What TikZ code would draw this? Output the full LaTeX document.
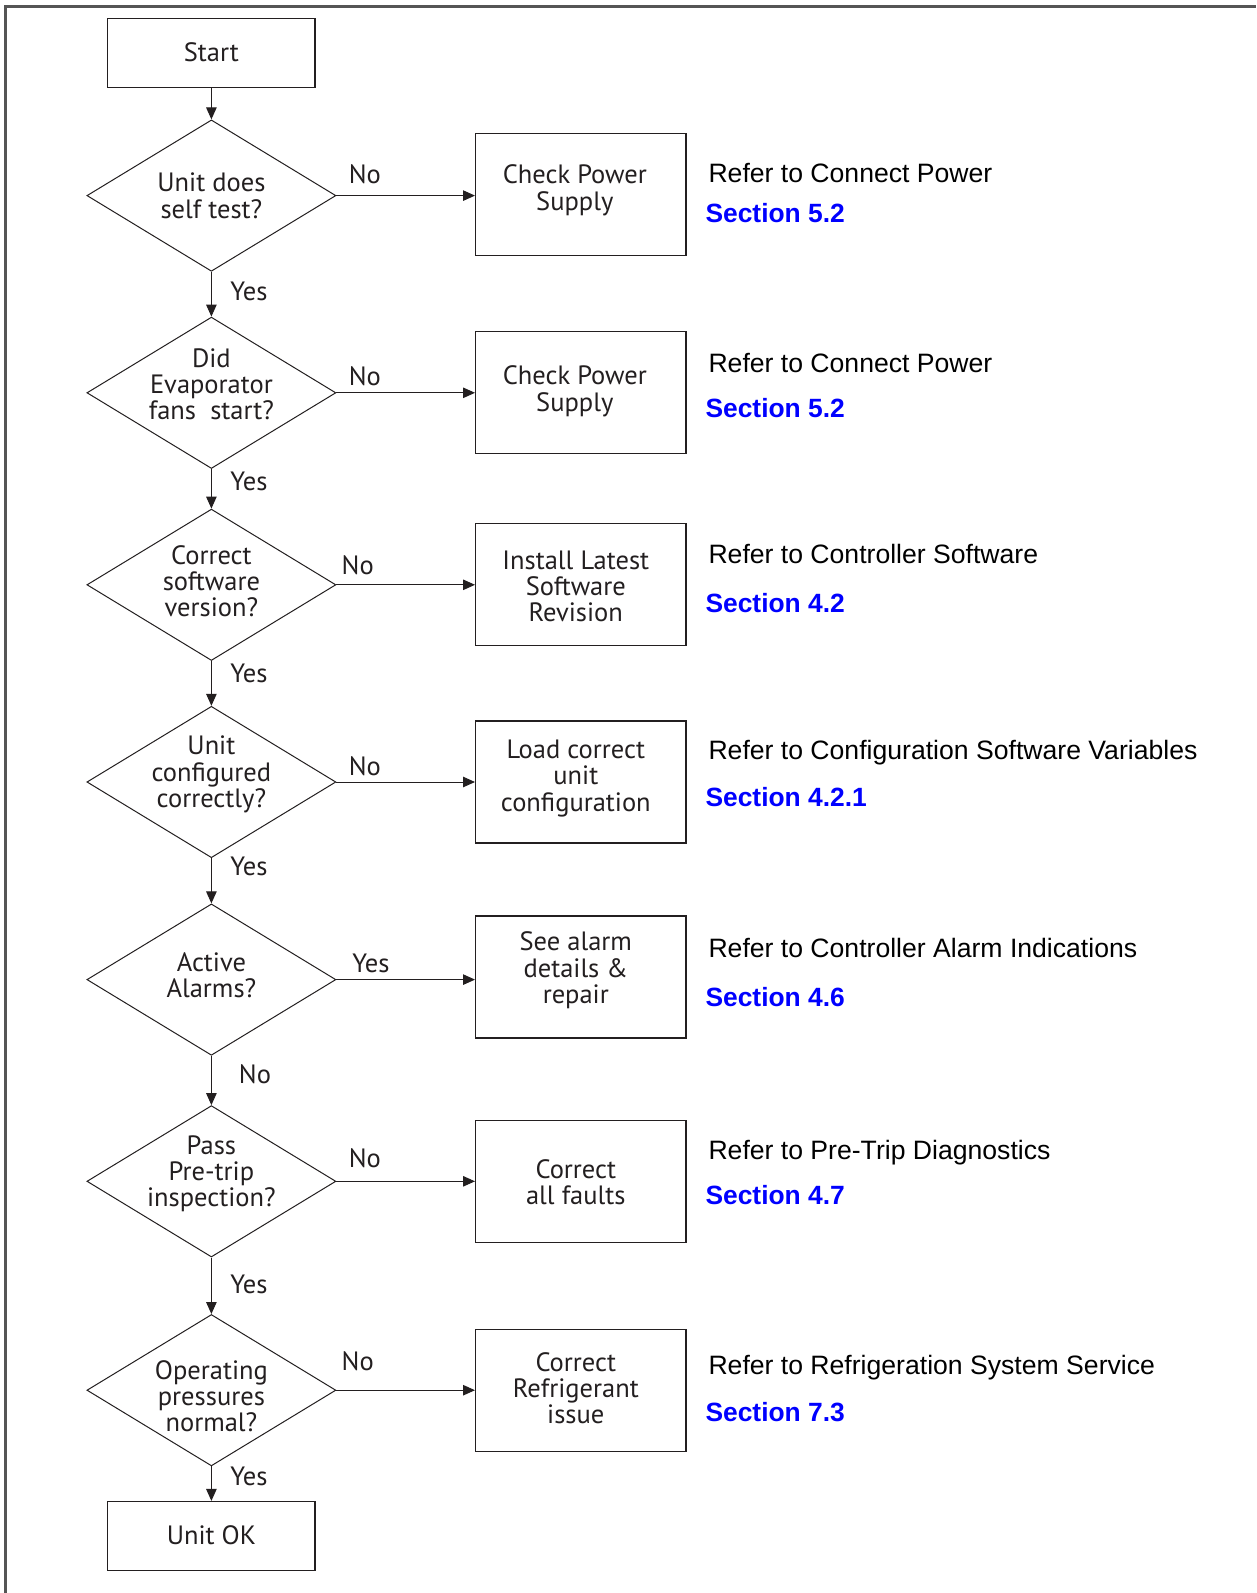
\documentclass[tikz,border=0pt]{standalone}
\usepackage{fontspec}
\setmainfont{PT Sans}
\newfontfamily\arialfont{Liberation Sans}
\usetikzlibrary{shapes.geometric,arrows.meta}
\definecolor{secblue}{RGB}{0,0,255}
\definecolor{ink}{RGB}{35,31,32}
\definecolor{framegray}{RGB}{85,85,85}
\tikzset{
  dfont/.style={font={\fontsize{26.5}{26.4}\selectfont}},
  box/.style={draw=ink, line width=1.2pt, minimum width=210.4pt, minimum height=122pt, inner sep=0pt},
  termbox/.style={draw=ink, line width=1.2pt, minimum width=207.3pt, minimum height=69pt, inner sep=0pt},
  dec/.style={diamond, draw=ink, line width=1pt, minimum width=249pt, minimum height=151.4pt, inner sep=0pt},
  txt/.style={dfont, align=center, inner sep=0pt, text=ink},
  lbl/.style={dfont, inner sep=0pt, text=ink},
  arr/.style={draw=ink, line width=1pt, -{Triangle[length=12pt,width=10.5pt]}},
  refer/.style={anchor=base west, inner sep=0pt, font={\arialfont\fontsize{26.6}{30}\selectfont}},
  sect/.style={anchor=base west, inner sep=0pt, text=secblue, font={\arialfont\bfseries\fontsize{26.4}{30}\selectfont}},
}
\begin{document}
\begin{tikzpicture}[x=1pt,y=-1pt]
\useasboundingbox (0,0) rectangle (1256,1593);
\fill[white] (0,0) rectangle (1256,1593);
% frame
\draw[framegray, line width=3pt] (5.5,1593) -- (5.5,6.5) -- (1256,6.5);

% start
\node[termbox] (start) at (211.4,52.8) {};
\node[txt] (startt) at ([yshift=1pt]start.center) {Start};

% decisions
\node[dec] (d1) at (211.4,195.6) {};
\node[txt] (d1t) at ([yshift=0pt]d1.center) {Unit does\\self test?};
\node[dec] (d2) at (211.4,392.8) {};
\node[txt] (d2t) at ([yshift=8.6pt]d2.center) {Did\\Evaporator\\fans\ \ start?};
\node[dec] (d3) at (211.4,584.8) {};
\node[txt] (d3t) at ([yshift=3.6pt]d3.center) {Correct\\software\\version?};
\node[dec] (d4) at (211.4,782.0) {};
\node[txt] (d4t) at ([yshift=7.6pt]d4.center) {Unit\\configured\\correctly?};
\node[dec] (d5) at (211.4,979.6) {};
\node[txt] (d5t) at ([yshift=4.6pt]d5.center) {Active\\Alarms?};
\node[dec] (d6) at (211.4,1181.3) {};
\node[txt] (d6t) at ([yshift=7.6pt]d6.center) {Pass\\Pre-trip\\inspection?};
\node[dec] (d7) at (211.4,1390.2) {};
\node[txt] (d7t) at ([yshift=-6pt]d7.center) {Operating\\pressures\\normal?};

% end
\node[termbox] (ok) at (211.4,1536) {};
\node[txt] (okt) at ([yshift=1pt]ok.center) {Unit OK};

% action boxes
\node[box] (b1) at (580.8,194.1) {};
\node[txt] (b1t) at ([xshift=-6pt,yshift=4pt]b1.center) {Check Power\\Supply};
\node[box] (b2) at (580.8,392.8) {};
\node[txt] (b2t) at ([xshift=-6pt,yshift=1.5pt]b2.center) {Check Power\\Supply};
\node[box] (b3) at (580.8,584.8) {};
\node[txt] (b3t) at ([xshift=-5pt,yshift=-1.5pt]b3.center) {Install Latest\\Software\\Revision};
\node[box] (b4) at (580.8,782.0) {};
\node[txt] (b4t) at ([xshift=-5pt,yshift=3.5pt]b4.center) {Load correct\\unit\\configuration};
\node[box] (b5) at (580.8,977.0) {};
\node[txt] (b5t) at ([xshift=-5pt,yshift=6.6pt]b5.center) {See alarm\\details \&\\repair};
\node[box] (b6) at (580.8,1181.3) {};
\node[txt] (b6t) at ([xshift=-5pt,yshift=-1pt]b6.center) {Correct\\all faults};
\node[box] (b7) at (580.8,1390.2) {};
\node[txt] (b7t) at ([xshift=-5pt,yshift=2pt]b7.center) {Correct\\Refrigerant\\issue};

% connectors
\draw[arr] (start.south) -- (d1.north);
\draw[arr] (d1.south) -- (d2.north);
\draw[arr] (d2.south) -- (d3.north);
\draw[arr] (d3.south) -- (d4.north);
\draw[arr] (d4.south) -- (d5.north);
\draw[arr] (d5.south) -- (d6.north);
\draw[arr] (d6.south) -- (d7.north);
\draw[arr] (d7.south) -- (ok.north);
\draw[arr] (d1.east) -- (d1.east -| b1.west);
\draw[arr] (d2.east) -- (d2.east -| b2.west);
\draw[arr] (d3.east) -- (d3.east -| b3.west);
\draw[arr] (d4.east) -- (d4.east -| b4.west);
\draw[arr] (d5.east) -- (d5.east -| b5.west);
\draw[arr] (d6.east) -- (d6.east -| b6.west);
\draw[arr] (d7.east) -- (d7.east -| b7.west);

% connector labels
\node[lbl] (l1n) at (364.8,173.8) {No};
\node[lbl] (l1y) at (249,291.6) {Yes};
\node[lbl] (l2n) at (364.8,376) {No};
\node[lbl] (l2y) at (249,481.7) {Yes};
\node[lbl] (l3n) at (357.7,565) {No};
\node[lbl] (l3y) at (249,673.7) {Yes};
\node[lbl] (l4n) at (364.8,766.2) {No};
\node[lbl] (l4y) at (249,866.8) {Yes};
\node[lbl] (l5y) at (370.9,963.4) {Yes};
\node[lbl] (l5n) at (255,1074.1) {No};
\node[lbl] (l6n) at (364.8,1158.5) {No};
\node[lbl] (l6y) at (249,1284.5) {Yes};
\node[lbl] (l7n) at (357.7,1361.7) {No};
\node[lbl] (l7y) at (249,1476.5) {Yes};

% references
\node[refer] (r1) at (708.3,182.3) {Refer to Connect Power};
\node[sect] (s1) at (705.3,222.9) {Section 5.2};
\node[refer] (r2) at (708.3,372.3) {Refer to Connect Power};
\node[sect] (s2) at (705.3,417.0) {Section 5.2};
\node[refer] (r3) at (708.3,563.3) {Refer to Controller Software};
\node[sect] (s3) at (705.3,612.1) {Section 4.2};
\node[refer] (r4) at (708.3,759.5) {Refer to Configuration Software Variables};
\node[sect] (s4) at (705.3,806.2) {Section 4.2.1};
\node[refer] (r5) at (708.3,957.6) {Refer to Controller Alarm Indications};
\node[sect] (s5) at (705.3,1006.4) {Section 4.6};
\node[refer] (r6) at (708.3,1159.8) {Refer to Pre-Trip Diagnostics};
\node[sect] (s6) at (705.3,1204.5) {Section 4.7};
\node[refer] (r7) at (708.3,1374.3) {Refer to Refrigeration System Service};
\node[sect] (s7) at (705.3,1421.0) {Section 7.3};
\end{tikzpicture}
\end{document}
